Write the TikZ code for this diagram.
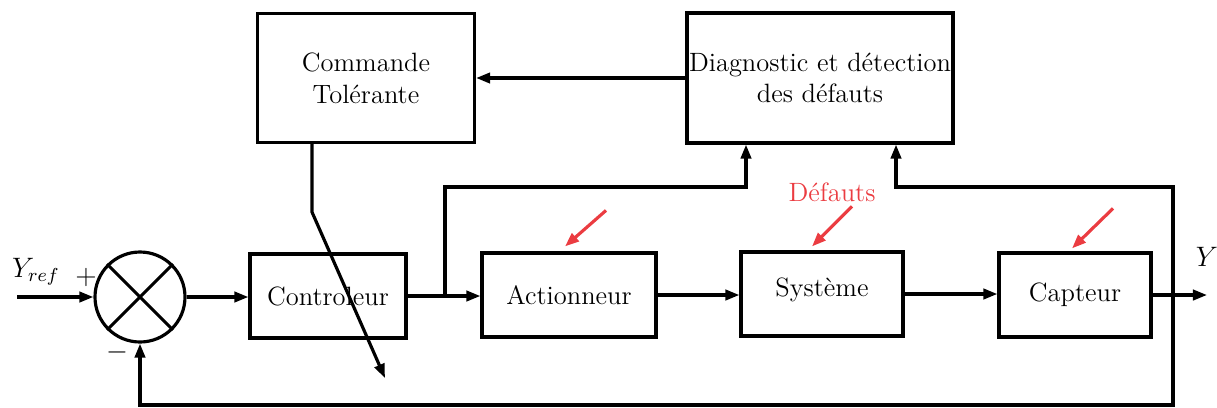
\documentclass[tikz,border=0pt]{standalone}
\usetikzlibrary{arrows.meta,positioning,calc}
\tikzset{>={Triangle[length=6pt,width=4.4pt]}}
\definecolor{faultred}{RGB}{235,60,65}
\tikzset{block/.style={draw, inner sep=0pt, align=center, minimum height=1.26cm}}
\tikzset{fault/.style={->, faultred}}

\begin{document}
\begin{tikzpicture}[x=0.015cm, y=-0.015cm, line width=1.35pt, font=\fontsize{11.3}{13.5}\selectfont]

  \useasboundingbox (0,0) rectangle (1217,407);

  % summing junction
  \node [draw, circle, minimum size=1.35cm, inner sep=0pt] (sum) at (140,297) {};
  \draw (sum.45) -- (sum.225)
        (sum.135) -- (sum.315);
  \node [font=\large] (yref) at (36,272) {$Y_{ref}$};
  \node [font=\large] (plus) at (86,277) {$+$};
  \node [font=\large] (minus) at (117,352) {$-$};

  % main chain
  \node [block, minimum width=2.34cm] (ctrl) at (328,296) {Controleur};
  \node [block, minimum width=2.61cm] (act) at (569,295) {Actionneur};
  \node [block, minimum width=2.43cm] (sys) at (822,294) {\raisebox{1.2ex}{Syst\`eme}};
  \node [block, minimum width=2.28cm] (capt) at (1075,295) {Capteur};

  % upper blocks
  \node [block, minimum width=3.255cm, minimum height=1.935cm] (cmd) at (366,78) {Commande\\Tol\'erante};
  \node [block, minimum width=3.99cm, minimum height=1.95cm] (diag) at (820,78) {Diagnostic et d\'etection\\des d\'efauts};

  \coordinate (in) at (17,297);
  \coordinate (out) at (1207,295);
  \coordinate (br) at (445,296);
  \coordinate (fb) at (1173,295);
  \coordinate (cmdout) at ($(cmd.south)+(-54,0)$);
  \coordinate (recfg) at (385,378);
  \node [font=\large] (y) at (1207,257) {$Y$};

  \draw[->] (in) -- (sum.west);
  \draw[->] (sum.east) -- (sum.east -| ctrl.west);
  \draw[->] (ctrl.east) -- (ctrl.east -| act.west);
  \draw[->] (act.east) -- (act.east -| sys.west);
  \draw[->] (sys.east) -- (sys.east -| capt.west);
  \draw[->] (capt.east) -- (out);

  % towards diagnosis
  \draw[->] (br) -- (br |- 0,187) -| ($(diag.south)+(-74,0)$);
  \draw[->] (fb) -- (fb |- 0,187) -| ($(diag.south)+(76,0)$);
  % feedback
  \draw[->] (fb) -- (fb |- 0,405) -| (sum.south);

  \draw[->] (diag.west) -- (diag.west -| cmd.east);
  \draw[->] (cmdout) -- ++(0,68) -- (recfg);

  % faults
  \node [text=faultred] (def) at (832,192) {D\'efauts};
  \draw[fault] ($(act.north)+(37,-41)$) -- ($(act.north)+(-4,-5)$);
  \draw[fault] ($(sys.north)+(30,-44)$) -- ($(sys.north)+(-10,-4)$);
  \draw[fault] ($(capt.north)+(38,-43)$) -- ($(capt.north)+(-3,-3)$);
\end{tikzpicture}
\end{document}
